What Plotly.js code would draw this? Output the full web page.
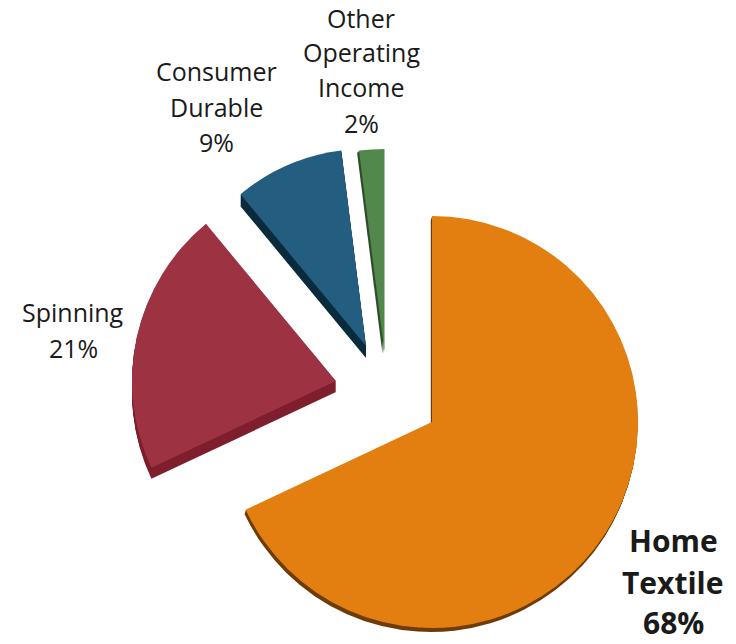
<!DOCTYPE html>
<html>
<head>
<meta charset="utf-8">
<script src="https://cdn.plot.ly/plotly-3.0.1.min.js"></script>
<style>html,body{margin:0;padding:0;background:#fff}#c{width:736px;height:644px}</style>
</head>
<body>
<div id="c"></div>
<script>
const categories = ["Home Textile", "Spinning", "Consumer Durable", "Other Operating Income"];
const shares = [68, 21, 9, 2];
const topColors = ["#E37E10", "#9C3242", "#235E80", "#53884C"];
const sideColors = ["#6E3D05", "#7F1F2E", "#0C2C3E", "#2F4F2A"];

// where each exploded wedge sits on the page (px): centre x, centre y, radius, depth, side shift x
const place = [
  {cx: 432, cy: 422, r: 206, depth: 4, sx: -0.3},
  {cx: 336, cy: 381, r: 204, depth: 11, sx: 0},
  {cx: 366, cy: 346, r: 197, depth: 12, sx: 0},
  {cx: 384.5, cy: 352, r: 203, depth: 2, sx: -1}
];
// label lines: page position, per category
const labelLines = [
  {lines: ["Home", "Textile"], x: 673, ys: [540, 582, 622.5], size: 30, bold: true},
  {lines: ["Spinning"], x: 73, ys: [311.5, 347.5], size: 25, bold: false},
  {lines: ["Consumer", "Durable"], x: 216, ys: [70.5, 106.5, 141.5], size: 25, bold: false},
  {lines: ["Other", "Operating", "Income"], x: 361, ys: [18, 52, 87, 122.5], size: 25, bold: false}
];

const W = 736, H = 644;
function wedge(i, cx, cy, r, color) {
  const cols = shares.map((_, k) => k === i ? color : "rgba(0,0,0,0)");
  return {
    type: "pie", labels: categories, values: shares, sort: false, direction: "clockwise", rotation: 0,
    marker: {colors: cols, line: {width: 0}},
    textinfo: "none", hoverinfo: "skip", showlegend: false,
    domain: {x: [(cx - r) / W, (cx + r) / W], y: [1 - (cy + r) / H, 1 - (cy - r) / H]}
  };
}
const traces = [];
shares.forEach((_, i) => {
  const p = place[i];
  for (let d = p.depth; d >= 1; d--) {
    traces.push(wedge(i, p.cx + p.sx * d, p.cy + d, p.r, sideColors[i]));
  }
  traces.push(wedge(i, p.cx, p.cy, p.r, topColors[i]));
});
const annotations = [];
labelLines.forEach((l, i) => {
  l.lines.concat([shares[i] + "%"]).forEach((t, j) => {
    annotations.push({
      text: l.bold ? "<b>" + t + "</b>" : t,
      x: l.x / W, y: 1 - l.ys[j] / H, xref: "paper", yref: "paper",
      xanchor: "center", yanchor: "middle", showarrow: false,
      font: {family: "Open Sans, sans-serif", size: l.size, color: "#1a1a1a"}
    });
  });
});
Plotly.newPlot("c", traces, {
  width: W, height: H, margin: {l: 0, r: 0, t: 0, b: 0},
  paper_bgcolor: "#fff", showlegend: false, annotations
}, {displayModeBar: false, staticPlot: true});
</script>
</body>
</html>
